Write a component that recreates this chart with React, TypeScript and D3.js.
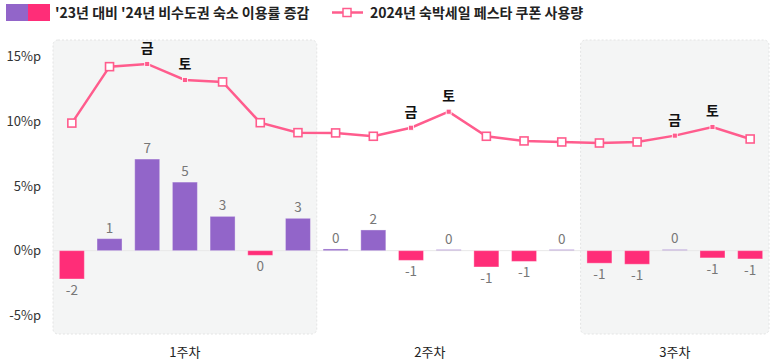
import React from "react";
import * as d3 from "d3";

const days = ["수","목","금","토","일","월","화","수","목","금","토","일","월","화","수","목","금","토","일"];
const barValues = [-2.19, 0.93, 7.08, 5.3, 2.65, -0.36, 2.5, 0.13, 1.6, -0.75, 0.08, -1.26, -0.83, 0.08, -0.97, -1.05, 0.1, -0.56, -0.64];
const barLabels = ["-2","1","7","5","3","0","3","0","2","-1","0","-1","-1","0","-1","-1","0","-1","-1"];
const faintBars = [10, 13, 16];
const lineValues = [9.86, 14.22, 14.43, 13.19, 13.04, 9.89, 9.12, 9.1, 8.84, 9.5, 10.74, 8.84, 8.48, 8.4, 8.32, 8.4, 8.89, 9.56, 8.63];
const highlightDays = ["금", "토"];
const yTicks = [-5, 0, 5, 10, 15];
const weeks = [
  { label: "1주차", start: 0, end: 6, shaded: true, labelPos: 3 },
  { label: "2주차", start: 7, end: 13, shaded: false, labelPos: 9.5 },
  { label: "3주차", start: 14, end: 18, shaded: true, labelPos: 16 },
];
const legendBar = "'23년 대비 '24년 비수도권 숙소 이용률 증감";
const legendLine = "2024년 숙박세일 페스타 쿠폰 사용량";

const W = 774, H = 363;
const PURPLE = "#9265c9";
const PINK = "#ff2d78";
const LINE = "#ff5c8d";
const FONT = "'Noto Sans CJK KR', 'Noto Sans', sans-serif";

export default function App() {
  const idx = days.map((_, i) => i);
  const x = d3.scaleBand<number>().domain(idx).range([53, 769]).padding(0);
  const step = x.bandwidth();
  const cx = (i: number) => (x(i) as number) + step / 2;
  const cxFrac = (p: number) => x.range()[0] + (p + 0.5) * step;
  const y = d3.scaleLinear().domain([-6.44, 16.28]).range([334, 40]);
  const barW = 25;
  const line = d3.line<number>().x((_, i) => cx(i)).y((v) => y(v));

  return (
    <svg width={W} height={H} style={{ position: "absolute", left: 0, top: 0, fontFamily: FONT }}>
      {/* legend */}
      <rect x={6} y={4} width={22} height={17} fill={PURPLE} />
      <rect x={28} y={4} width={22} height={17} fill={PINK} />
      <text x={55} y={18} fontSize={14} fontWeight={600} fill="#222">{legendBar}</text>
      <line x1={332} x2={363} y1={12.5} y2={12.5} stroke={LINE} strokeWidth={2.5} />
      <rect x={343} y={8.5} width={8} height={8} fill="#fff" stroke={LINE} strokeWidth={1.5} />
      <text x={370} y={18} fontSize={14} fontWeight={600} fill="#222">{legendLine}</text>

      {/* shaded weeks */}
      {weeks.filter((w) => w.shaded).map((w) => (
        <rect key={w.label} x={x(w.start) as number} y={40}
          width={(x(w.end) as number) + step - (x(w.start) as number)} height={294}
          rx={5} fill="#f4f5f5" stroke="#e3e4e4" strokeDasharray="2,2" />
      ))}

      {/* y axis labels */}
      {yTicks.map((t) => (
        <text key={t} x={41} y={y(t)} dy="0.35em" textAnchor="end" fontSize={13} fill="#333">{`${t}%p`}</text>
      ))}

      {/* zero line */}
      <line x1={53} x2={769} y1={y(0)} y2={y(0)} stroke="#e8e8e8" strokeWidth={1} />

      {/* bars */}
      {barValues.map((v, i) => {
        const faint = faintBars.includes(i);
        const top = Math.min(y(v), y(0));
        const h = Math.max(Math.abs(y(v) - y(0)), 1.5);
        const color = v >= 0 ? PURPLE : PINK;
        return (
          <g key={i}>
            <rect x={cx(i) - barW / 2} y={v >= 0 ? y(0) - h : y(0)} width={barW} height={h}
              fill={color} opacity={faint ? 0.35 : 1} stroke={faint ? "none" : "#ffffff"} strokeOpacity={0.35} strokeWidth={1} />
            <text x={cx(i)} y={v >= 0 ? top - 6 : y(0) + h + 16} textAnchor="middle" fontSize={13.5} fill="#777">{barLabels[i]}</text>
          </g>
        );
      })}

      {/* line */}
      <path d={line(lineValues) || ""} fill="none" stroke={LINE} strokeWidth={2.5} />
      {lineValues.map((v, i) => {
        const hl = highlightDays.includes(days[i]);
        return hl ? (
          <g key={i}>
            <rect x={cx(i) - 2.5} y={y(v) - 2.5} width={5} height={5} fill={LINE} stroke="#fff" strokeWidth={0.8} />
            <text x={cx(i)} y={y(v) - 11} textAnchor="middle" fontSize={14} fontWeight={700} fill="#111">{days[i]}</text>
          </g>
        ) : (
          <rect key={i} x={cx(i) - 4} y={y(v) - 4} width={8} height={8} fill="#fff" stroke={LINE} strokeWidth={1.6} />
        );
      })}

      {/* week labels */}
      {weeks.map((w) => (
        <text key={w.label} x={cxFrac(w.labelPos)} y={357} textAnchor="middle" fontSize={13} fill="#222">{w.label}</text>
      ))}
    </svg>
  );
}
